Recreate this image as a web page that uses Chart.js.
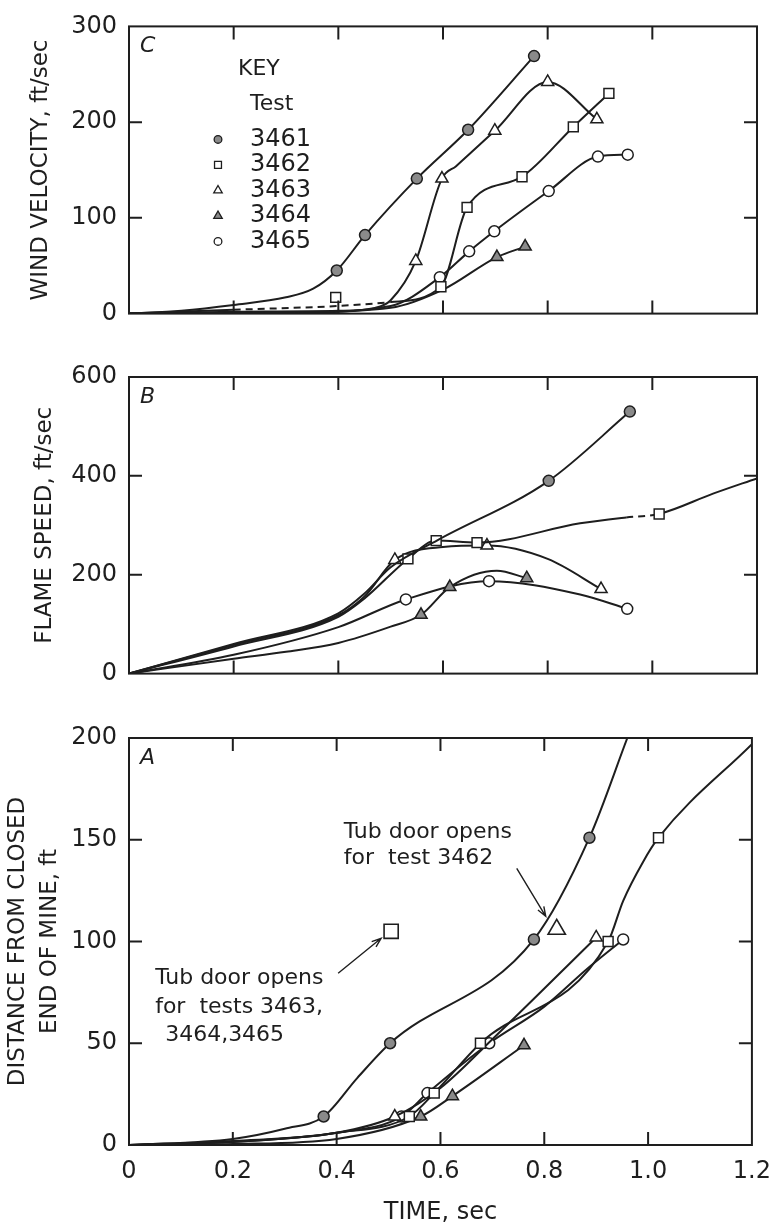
<!DOCTYPE html>
<html lang="en">
<head>
<meta charset="UTF-8">
<title>Wind velocity, flame speed and flame distance</title>
<style>
    body {
        margin: 0;
        background: #fff;
    }
    #wrap {
        position: relative;
        width: 783px;
        height: 1222px;
    }
    .panel {
        position: absolute;
        left: 0;
        width: 783px;
    }
    #panelC { top: 0; height: 340px; }
    #panelB { top: 340px; height: 360px; }
    #panelA { top: 700px; height: 522px; }
</style>
</head>
<body>
<div id="wrap">
    <div class="panel" id="panelC"><canvas id="chartC"></canvas></div>
    <div class="panel" id="panelB"><canvas id="chartB"></canvas></div>
    <div class="panel" id="panelA"><canvas id="chartA"></canvas></div>
</div>

<script src="https://cdn.jsdelivr.net/npm/chart.js"></script>
<script>
// tests shown in the key
const testIds = ['3461', '3462', '3463', '3464', '3465'];

// x axis (time, sec)
const timeTicks = [0, 0.2, 0.4, 0.6, 0.8, 1.0, 1.2];

// ---- C: wind velocity, ft/sec ----  (mark = 1 where a symbol is plotted)
const windTime3461 = [0, 0.1, 0.2, 0.3, 0.352, 0.397, 0.451, 0.55, 0.648, 0.774];
const windVel3461  = [0, 3, 9, 17, 26, 45, 82, 141, 192, 269];
const windMark3461 = [0, 0, 0, 0, 0, 1, 1, 1, 1, 1];

const windTime3462 = [0, 0.2, 0.4, 0.5, 0.596, 0.646, 0.751, 0.849, 0.917];
const windVel3462  = [0, 4, 8, 12, 28, 111, 143, 195, 230];
const windMark3462 = [0, 0, 0, 0, 1, 1, 1, 1, 1];

const windTime3463 = [0, 0.2, 0.4, 0.47, 0.5, 0.548, 0.598, 0.625, 0.699, 0.8, 0.894];
const windVel3463  = [0, 2, 3, 6, 14, 55, 141, 154, 191, 242, 203];
const windMark3463 = [0, 0, 0, 0, 0, 1, 1, 0, 1, 1, 1];

const windTime3464 = [0, 0.3, 0.5, 0.6, 0.703, 0.757];
const windVel3464  = [0, 1, 6, 25, 59, 70];
const windMark3464 = [0, 0, 0, 0, 1, 1];

const windTime3465 = [0, 0.3, 0.5, 0.594, 0.65, 0.698, 0.802, 0.896, 0.953];
const windVel3465  = [0, 1, 8, 38, 65, 86, 128, 164, 166];
const windMark3465 = [0, 0, 0, 1, 1, 1, 1, 1, 1];

// stray 3462 reading off the curve
const windLoneTime = [0.395];
const windLoneVel  = [17];

// ---- B: flame speed, ft/sec ----
const flameTime3461 = [0, 0.2, 0.4, 0.45, 0.5, 0.59, 0.802, 0.957];
const flameSpd3461  = [0, 60, 122, 162, 215, 270, 390, 530];
const flameMark3461 = [0, 0, 0, 0, 0, 0, 1, 1];

const flameTime3462 = [0, 0.2, 0.4, 0.45, 0.533, 0.587, 0.665, 0.862, 0.95, 1.013, 1.116, 1.2];
const flameSpd3462  = [0, 55, 115, 152, 232, 269, 265, 304, 316, 323, 364, 395];
const flameMark3462 = [0, 0, 0, 0, 1, 1, 1, 0, 0, 1, 0, 0];

const flameTime3463 = [0, 0.2, 0.4, 0.45, 0.508, 0.6, 0.684, 0.8, 0.902];
const flameSpd3463  = [0, 58, 118, 156, 230, 256, 259, 232, 171];
const flameMark3463 = [0, 0, 0, 0, 1, 0, 1, 0, 1];

const flameTime3464 = [0, 0.2, 0.3, 0.4, 0.5, 0.558, 0.613, 0.703, 0.76];
const flameSpd3464  = [0, 30, 44, 62, 95, 119, 175, 208, 193];
const flameMark3464 = [0, 0, 0, 0, 0, 1, 1, 0, 1];

const flameTime3465 = [0, 0.2, 0.4, 0.529, 0.688, 0.862, 0.952];
const flameSpd3465  = [0, 38, 94, 150, 187, 160, 131];
const flameMark3465 = [0, 0, 0, 1, 1, 0, 1];

// ---- A: distance from closed end of mine, ft ----
const distTime3461 = [0, 0.2, 0.3, 0.375, 0.44, 0.503, 0.78, 0.887, 0.96];
const distFt3461   = [0, 3, 8, 14, 33, 50, 101, 151, 200];
const distMark3461 = [0, 0, 0, 1, 0, 1, 1, 1, 0];

const distTime3462 = [0, 0.2, 0.4, 0.54, 0.588, 0.677, 0.923, 0.952, 0.99, 1.02, 1.2];
const distFt3462   = [0, 1.5, 6, 14, 25.5, 50, 100, 120, 139, 151, 197];
const distMark3462 = [0, 0, 0, 1, 1, 1, 1, 0, 0, 1, 0];

const distTime3463 = [0, 0.2, 0.4, 0.512, 0.6, 0.7, 0.9];
const distFt3463   = [0, 2, 6, 14, 28, 52, 102];
const distMark3463 = [0, 0, 0, 1, 0, 0, 1];

const distTime3464 = [0, 0.2, 0.4, 0.562, 0.623, 0.761];
const distFt3464   = [0, 0.5, 3, 14, 24, 49];
const distMark3464 = [0, 0, 0, 1, 1, 1];

const distTime3465 = [0, 0.2, 0.4, 0.525, 0.575, 0.694, 0.8, 0.88, 0.952];
const distFt3465   = [0, 1.5, 6, 14, 25.5, 50, 68, 86, 101];
const distMark3465 = [0, 0, 0, 1, 1, 1, 0, 0, 1];

// tub door markers: square (tests 3463-3465), triangle (test 3462)
const doorTime = [0.505, 0.824];
const doorDist = [105, 106];

// ------------------------------------------------------------
const ink = '#1e1e1e';
const shade = '#8a8a8a';
const FONT = '"DejaVu Sans", sans-serif';
Chart.defaults.font.family = FONT;
Chart.defaults.color = ink;

const markStyle = {
    '3461': { pointStyle: 'circle', fill: shade, r: 5.5 },
    '3462': { pointStyle: 'rect', fill: '#fff', r: 7 },
    '3463': { pointStyle: 'triangle', fill: '#fff', r: 7 },
    '3464': { pointStyle: 'triangle', fill: shade, r: 7 },
    '3465': { pointStyle: 'circle', fill: '#fff', r: 5.5 }
};

function curve(id, times, vals, marks, dashFrom, dashTo) {
    const st = markStyle[id];
    return {
        label: id,
        data: times.map((t, i) => ({ x: t, y: vals[i] })),
        borderColor: ink,
        borderWidth: 2,
        backgroundColor: st.fill,
        pointStyle: st.pointStyle,
        pointRadius: marks.map(m => m ? st.r : 0),
        pointBorderWidth: 1.5,
        pointBorderColor: ink,
        pointBackgroundColor: st.fill,
        cubicInterpolationMode: 'monotone',
        fill: false,
        segment: {
            borderDash: ctx => (dashFrom !== undefined && ctx.p0.parsed.x >= dashFrom && ctx.p1.parsed.x <= dashTo) ? [7, 5] : undefined
        }
    };
}

function xAxis(showLabels, height) {
    return {
        type: 'linear', min: 0, max: 1.2,
        afterBuildTicks: s => { s.ticks = timeTicks.map(v => ({ value: v })); },
        ticks: {
            display: showLabels, padding: 12, color: ink, font: { size: 24 },
            maxRotation: 0, autoSkip: false,
            callback: v => v === 0 ? '0' : v.toFixed(1)
        },
        grid: { display: false, drawTicks: false },
        border: { display: false },
        title: showLabels
            ? { display: true, text: 'TIME, sec', color: ink, font: { size: 24, lineHeight: 0.8 }, padding: 0 }
            : { display: false },
        afterFit: s => { s.height = height; }
    };
}

function yAxis(max, step, title, lineHeight, pad) {
    return {
        min: 0, max: max,
        ticks: { stepSize: step, padding: 12, color: ink, font: { size: 24 } },
        grid: { display: false, drawTicks: false },
        border: { display: false },
        title: { display: true, text: title, color: ink, font: { size: 23, lineHeight: lineHeight }, padding: { top: pad, bottom: 0 } },
        afterFit: s => { s.width = 129; }
    };
}

// box round the plot with inward tick marks on all four sides
const framePlugin = {
    id: 'frame',
    afterDraw(chart) {
        const { ctx, chartArea: a, scales: { x, y } } = chart;
        const len = 13;
        ctx.save();
        ctx.strokeStyle = ink;
        ctx.lineWidth = 2;
        ctx.strokeRect(a.left, a.top, a.right - a.left, a.bottom - a.top);
        ctx.beginPath();
        x.ticks.forEach(t => {
            if (t.value <= x.min || t.value >= x.max) return;
            const px = x.getPixelForValue(t.value);
            ctx.moveTo(px, a.bottom); ctx.lineTo(px, a.bottom - len);
            ctx.moveTo(px, a.top); ctx.lineTo(px, a.top + len);
        });
        y.ticks.forEach(t => {
            if (t.value <= y.min || t.value >= y.max) return;
            const py = y.getPixelForValue(t.value);
            ctx.moveTo(a.left, py); ctx.lineTo(a.left + len, py);
            ctx.moveTo(a.right, py); ctx.lineTo(a.right - len, py);
        });
        ctx.stroke();
        // panel letter
        ctx.fillStyle = ink;
        ctx.font = 'italic 22px ' + FONT;
        ctx.textBaseline = 'middle';
        ctx.textAlign = 'left';
        const letter = chart.options.plugins.frame.letter;
        ctx.fillText(letter, a.left + 11, a.top + 20);
        ctx.restore();
    }
};

// key inside panel C
const keyPlugin = {
    id: 'key',
    afterDraw(chart) {
        const { ctx, chartArea: a } = chart;
        ctx.save();
        ctx.fillStyle = ink;
        ctx.textBaseline = 'middle';
        ctx.textAlign = 'left';
        ctx.font = '22px ' + FONT;
        ctx.fillText('KEY', a.left + 109, a.top + 43);
        ctx.fillText('Test', a.left + 121, a.top + 78);
        ctx.font = '24px ' + FONT;
        testIds.forEach((id, i) => {
            const st = markStyle[id];
            const yy = a.top + 113 + i * 25.5;
            ctx.fillStyle = st.fill;
            ctx.strokeStyle = ink;
            ctx.lineWidth = 1.3;
            Chart.helpers.drawPoint(ctx, { pointStyle: st.pointStyle, radius: st.r * 0.7, borderWidth: 1.3, rotation: 0 }, a.left + 89, yy);
            ctx.fillStyle = ink;
            ctx.fillText(id, a.left + 121, yy);
        });
        ctx.restore();
    }
};

function arrow(ctx, x0, y0, x1, y1) {
    const ang = Math.atan2(y1 - y0, x1 - x0);
    ctx.beginPath();
    ctx.moveTo(x0, y0);
    ctx.lineTo(x1, y1);
    ctx.moveTo(x1 - 10 * Math.cos(ang - 0.35), y1 - 10 * Math.sin(ang - 0.35));
    ctx.lineTo(x1, y1);
    ctx.lineTo(x1 - 10 * Math.cos(ang + 0.35), y1 - 10 * Math.sin(ang + 0.35));
    ctx.stroke();
}

// tub door notes in panel A
const notePlugin = {
    id: 'notes',
    afterDraw(chart) {
        const { ctx, scales: { x, y } } = chart;
        const sqX = x.getPixelForValue(doorTime[0]), sqY = y.getPixelForValue(doorDist[0]);
        const trX = x.getPixelForValue(doorTime[1]), trY = y.getPixelForValue(doorDist[1]);
        ctx.save();
        ctx.fillStyle = ink;
        ctx.strokeStyle = ink;
        ctx.lineWidth = 1.4;
        ctx.font = '22px ' + FONT;
        ctx.textBaseline = 'middle';
        ctx.textAlign = 'left';
        ctx.fillText('Tub door opens', trX - 213, trY - 97);
        ctx.fillText('for  test 3462', trX - 213, trY - 71);
        arrow(ctx, trX - 40, trY - 61, trX - 11, trY - 13);
        ctx.fillText('Tub door opens', sqX - 236, sqY + 47);
        ctx.fillText('for  tests 3463,', sqX - 236, sqY + 76);
        ctx.fillText('3464,3465', sqX - 226, sqY + 104);
        arrow(ctx, sqX - 53, sqY + 42, sqX - 10, sqY + 7);
        ctx.restore();
    }
};

function baseOptions(letter, xa, ya, padTop) {
    return {
        responsive: true,
        maintainAspectRatio: false,
        animation: false,
        events: [],
        layout: { padding: { left: 0, right: 26, top: padTop, bottom: 0 } },
        plugins: { legend: { display: false }, tooltip: { enabled: false }, frame: { letter: letter } },
        scales: { x: xa, y: ya }
    };
}

// C
new Chart(document.getElementById('chartC'), {
    type: 'line',
    data: {
        datasets: [
            curve('3461', windTime3461, windVel3461, windMark3461),
            curve('3462', windTime3462, windVel3462, windMark3462, 0.2, 0.5),
            curve('3463', windTime3463, windVel3463, windMark3463),
            curve('3464', windTime3464, windVel3464, windMark3464),
            curve('3465', windTime3465, windVel3465, windMark3465),
            Object.assign(curve('3462', windLoneTime, windLoneVel, [1]), { showLine: false })
        ]
    },
    options: baseOptions('C', xAxis(false, 16), yAxis(300, 100, 'WIND VELOCITY, ft/sec', 1.2, 27), 15),
    plugins: [framePlugin, keyPlugin]
});

// B
new Chart(document.getElementById('chartB'), {
    type: 'line',
    data: {
        datasets: [
            curve('3461', flameTime3461, flameSpd3461, flameMark3461),
            curve('3462', flameTime3462, flameSpd3462, flameMark3462, 0.94, 1.02),
            curve('3463', flameTime3463, flameSpd3463, flameMark3463),
            curve('3464', flameTime3464, flameSpd3464, flameMark3464),
            curve('3465', flameTime3465, flameSpd3465, flameMark3465)
        ]
    },
    options: baseOptions('B', xAxis(false, 15), yAxis(600, 200, 'FLAME SPEED, ft/sec', 1.2, 31), 37),
    plugins: [framePlugin]
});

// A
new Chart(document.getElementById('chartA'), {
    type: 'line',
    data: {
        datasets: [
            curve('3461', distTime3461, distFt3461, distMark3461),
            curve('3462', distTime3462, distFt3462, distMark3462),
            curve('3463', distTime3463, distFt3463, distMark3463),
            curve('3464', distTime3464, distFt3464, distMark3464),
            curve('3465', distTime3465, distFt3465, distMark3465),
            {
                label: 'door',
                data: doorTime.map((t, i) => ({ x: t, y: doorDist[i] })),
                showLine: false,
                pointStyle: ['rect', 'triangle'],
                pointRadius: [10, 10],
                pointBorderWidth: 1.6,
                pointBorderColor: ink,
                pointBackgroundColor: '#fff'
            }
        ]
    },
    options: baseOptions('A', xAxis(true, 77), yAxis(200, 50, ['DISTANCE FROM CLOSED', 'END OF MINE, ft'], 1.35, 3), 38),
    plugins: [framePlugin, notePlugin]
});
</script>
</body>
</html>
